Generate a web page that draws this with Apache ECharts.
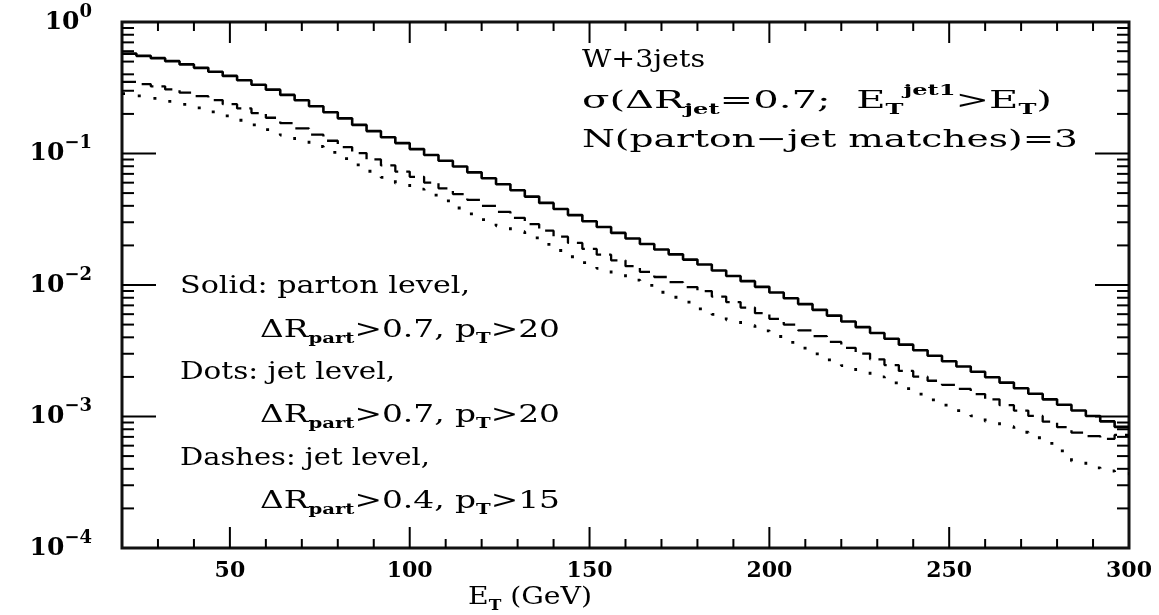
<!DOCTYPE html>
<html><head><meta charset="utf-8">
<script src="https://cdn.jsdelivr.net/npm/echarts@6/dist/echarts.min.js"></script>
<style>html,body{margin:0;padding:0;background:#fff}#c{width:1159px;height:615px}</style>
</head><body><div id="c"></div>
<script>
// ---- data ----
const binLow = [20,24,28,32,36,40,44,48,52,56,60,64,68,72,76,80,84,88,92,96,100,104,108,112,116,120,124,128,132,136,140,144,148,152,156,160,164,168,172,176,180,184,188,192,196,200,204,208,212,216,220,224,228,232,236,240,244,248,252,256,260,264,268,272,276,280,284,288,292,296];
const xMax = 300;
const solid = [0.575,0.553,0.531,0.504,0.476,0.448,0.419,0.389,0.361,0.333,
 0.306,0.279,0.254,0.229,0.206,0.185,0.165,0.148,0.133,0.120,
 0.108,0.0975,0.0881,0.0796,0.0719,0.0649,0.0583,0.0525,0.0470,0.0421,
 0.0378,0.0340,0.0305,0.0276,0.0249,0.0226,0.0205,0.0186,0.0171,0.0156,
 0.0143,0.0129,0.0117,0.0107,0.00968,0.00877,0.00793,0.00716,0.00647,0.00585,
 0.00528,0.00478,0.00432,0.00390,0.00352,0.00319,0.00290,0.00263,0.00240,0.00219,
 0.00199,0.00181,0.00164,0.00149,0.00135,0.00123,0.00111,0.00101,0.000918,0.000834];
const dashes = [0.351,0.337,0.324,0.307,0.290,0.273,0.255,0.237,0.220,0.203,
 0.187,0.170,0.155,0.139,0.125,0.112,0.1007,0.0902,0.0811,0.0729,
 0.0665,0.0601,0.0543,0.0491,0.0444,0.0400,0.0360,0.0324,0.0290,0.0259,
 0.0233,0.0209,0.0188,0.0170,0.0154,0.0139,0.0126,0.0115,0.0105,0.00964,
 0.00899,0.00817,0.00741,0.00673,0.00611,0.00553,0.00500,0.00452,0.00408,0.00369,
 0.00333,0.00301,0.00272,0.00246,0.00222,0.00201,0.00187,0.00174,0.00162,0.00148,
 0.00135,0.00122,0.00111,0.00101,0.000914,0.000830,0.000753,0.000708,0.000676,0.000724];
const dots = [0.285,0.274,0.263,0.249,0.236,0.222,0.207,0.193,0.179,0.165,
 0.152,0.138,0.126,0.113,0.102,0.0914,0.0818,0.0733,0.0659,0.0593,
 0.0535,0.0483,0.0437,0.0385,0.0348,0.0314,0.0282,0.0254,0.0228,0.0204,
 0.0183,0.0164,0.0148,0.0134,0.0121,0.0109,0.00993,0.00881,0.00807,0.00740,
 0.00659,0.00598,0.00543,0.00493,0.00448,0.00406,0.00366,0.00331,0.00299,0.00270,
 0.00244,0.00221,0.00200,0.00180,0.00163,0.00148,0.00134,0.00122,0.00111,0.00101,
 0.000920,0.000836,0.000759,0.000689,0.000625,0.000548,0.000457,0.000407,0.000385,0.000367];
const xLabels = [50,100,150,200,250,300];
const xMajorTicks = [50,100,150,200,250];
const xMinorTicks = [30,40,60,70,80,90,110,120,130,140,160,170,180,190,210,220,230,240,260,270,280,290];
const yMin = 1e-4, yMax = 1;
const yMajorTicks = [1e-3,1e-2,1e-1];
const yMinorTicks = [2e-4,3e-4,4e-4,5e-4,6e-4,7e-4,8e-4,9e-4,
 2e-3,3e-3,4e-3,5e-3,6e-3,7e-3,8e-3,9e-3,
 2e-2,3e-2,4e-2,5e-2,6e-2,7e-2,8e-2,9e-2,
 0.2,0.3,0.4,0.5,0.6,0.7,0.8,0.9];

// ---- helpers ----
function steps(vals){ const d = binLow.map((x,i)=>[x, vals[i]]); d.push([xMax, vals[vals.length-1]]); return d; }
const FONT = 'DejaVu Serif';
const RICH = {
  n:  {fontFamily: FONT, fontSize: 25, fill:'#000', color:'#000', lineHeight: 30},
  sb: {fontFamily: FONT, fontSize: 15, fontWeight:'bold', fill:'#000', color:'#000', lineHeight: 15, padding:[18,0,0,0]},
  sp: {fontFamily: FONT, fontSize: 15, fontWeight:'bold', fill:'#000', color:'#000', lineHeight: 15, padding:[0,0,20,0]}
};
const mctx = document.createElement('canvas').getContext('2d');
function tw(style, text){ const s = RICH[style]; mctx.font = (s.fontWeight||'normal') + ' ' + s.fontSize + 'px "' + FONT + '"'; return mctx.measureText(text).width; }
function textLine(x0, x1, yc, tokens){
  const w = tokens.reduce((a,t) => a + tw(t[0], t[1]), 0);
  return {type:'text', x:x0, y:yc, scaleX:(x1-x0)/w, silent:true, z:100,
    style:{text: tokens.map(t => '{'+t[0]+'|'+t[1]+'}').join(''), rich:RICH,
      verticalAlign:'middle', align:'left', textVerticalAlign:'middle', textAlign:'left', fill:'#000'}};
}
function xTickSeries(vals, len){
  return {type:'custom', silent:true, clip:false, z:5, animation:false,
    data: vals.map(v => [v, yMin]),
    renderItem: (p, api) => {
      const x = api.value(0); const b = api.coord([x, yMin]); const t = api.coord([x, yMax]);
      return {type:'group', children:[
        {type:'line', shape:{x1:b[0], y1:b[1], x2:b[0], y2:b[1]-len}, style:{stroke:'#000', lineWidth:2}},
        {type:'line', shape:{x1:t[0], y1:t[1], x2:t[0], y2:t[1]+len}, style:{stroke:'#000', lineWidth:2}}]};
    }};
}
function yTickSeries(vals, len){
  return {type:'custom', silent:true, clip:false, z:5, animation:false,
    data: vals.map(v => [binLow[0], v]),
    renderItem: (p, api) => {
      const y = api.value(1); const l = api.coord([binLow[0], y]); const r = api.coord([xMax, y]);
      return {type:'group', children:[
        {type:'line', shape:{x1:l[0], y1:l[1], x2:l[0]+len, y2:l[1]}, style:{stroke:'#000', lineWidth:2}},
        {type:'line', shape:{x1:r[0], y1:r[1], x2:r[0]-len, y2:r[1]}, style:{stroke:'#000', lineWidth:2}}]};
    }};
}

const chart = echarts.init(document.getElementById('c'));
chart.setOption({
  backgroundColor:'#fff',
  animation:false,
  grid:{left:122, right:30, top:22, bottom:67, show:true, borderColor:'#111', borderWidth:3, backgroundColor:'transparent'},
  xAxis:{type:'value', min:binLow[0], max:xMax, interval:10,
    axisLine:{show:false}, axisTick:{show:false}, splitLine:{show:false},
    axisLabel:{margin:12, color:'#000', fontFamily:FONT, fontWeight:'bold', fontSize:22,
      formatter: v => xLabels.indexOf(v) >= 0 ? String(v) : ''}},
  yAxis:{type:'log', logBase:10, min:yMin, max:yMax,
    axisLine:{show:false}, axisTick:{show:false}, splitLine:{show:false}, minorTick:{show:false},
    axisLabel:{margin:30, color:'#000',
      formatter: v => { const e = Math.round(Math.log10(v)); return '{b|10}{s|' + (e < 0 ? '\u2212' + (-e) : e) + '}'; },
      rich:{ b:{fontFamily:FONT, fontWeight:'bold', fontSize:25, color:'#000'},
             s:{fontFamily:FONT, fontWeight:'bold', fontSize:18, color:'#000', padding:[0,0,20,0]} }}},
  series:[
    {type:'line', name:'Solid', step:'end', data:steps(solid), symbol:'none', z:3,
      lineStyle:{color:'#000', width:2.6, type:'solid'}},
    {type:'line', name:'Dashes', step:'end', data:steps(dashes), symbol:'none', z:3,
      lineStyle:{color:'#000', width:2.3, type:[14,8]}},
    {type:'line', name:'Dots', step:'end', data:steps(dots), symbol:'none', z:3,
      lineStyle:{color:'#000', width:2.8, type:[3,15]}},
    xTickSeries(xMajorTicks, 21),
    xTickSeries(xMinorTicks, 9),
    yTickSeries(yMajorTicks, 34),
    yTickSeries(yMinorTicks, 12)
  ],
  graphic:[
    textLine(582, 705, 60, [['n','W+3jets']]),
    textLine(582, 1052, 101, [['n','\u03c3(\u0394R'],['sb','jet'],['n','=0.7;  E'],['sb','T'],['sp','jet1'],['n','>E'],['sb','T'],['n',')']]),
    textLine(582, 1078, 140, [['n','N(parton\u2212jet matches)=3']]),
    textLine(180, 470, 286, [['n','Solid: parton level,']]),
    textLine(260, 560, 330, [['n','\u0394R'],['sb','part'],['n','>0.7, p'],['sb','T'],['n','>20']]),
    textLine(180, 395, 372, [['n','Dots: jet level,']]),
    textLine(260, 560, 415, [['n','\u0394R'],['sb','part'],['n','>0.7, p'],['sb','T'],['n','>20']]),
    textLine(180, 430, 458, [['n','Dashes: jet level,']]),
    textLine(260, 560, 501, [['n','\u0394R'],['sb','part'],['n','>0.4, p'],['sb','T'],['n','>15']]),
    textLine(468, 592, 597, [['n','E'],['sb','T'],['n',' (GeV)']])
  ]
});
</script></body></html>
